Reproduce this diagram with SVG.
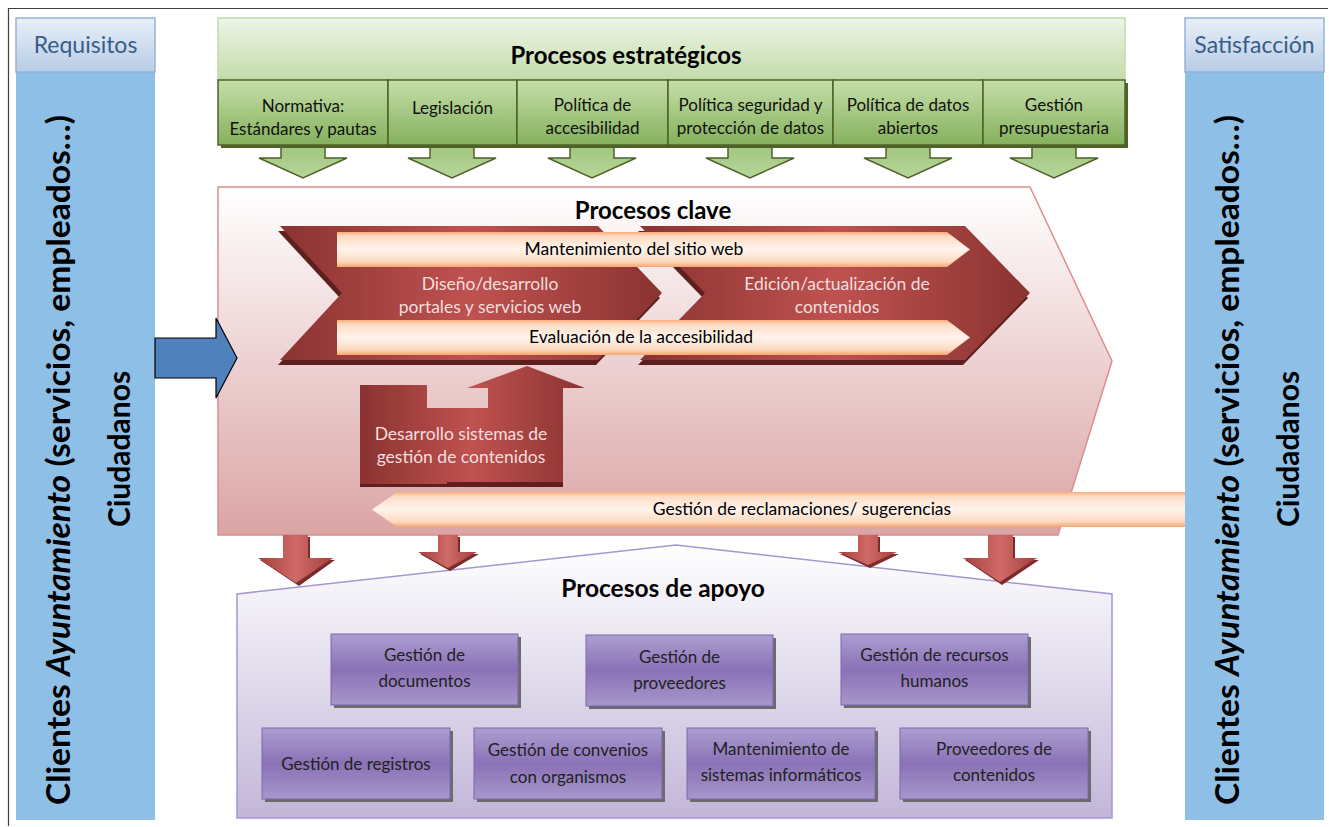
<svg xmlns="http://www.w3.org/2000/svg" width="1329" height="827" viewBox="0 0 1329 827">
<defs>
<linearGradient id="gBlueHdr" x1="0" y1="0" x2="0" y2="1"><stop offset="0" stop-color="#e9f0f8"/><stop offset="1" stop-color="#b7cce6"/></linearGradient>
<linearGradient id="gGreenHdr" x1="0" y1="0" x2="0" y2="1"><stop offset="0" stop-color="#eef5e6"/><stop offset="1" stop-color="#c2dbaa"/></linearGradient>
<linearGradient id="gGreenBox" x1="0" y1="0" x2="0" y2="1"><stop offset="0" stop-color="#c6dfaa"/><stop offset="1" stop-color="#84b05c"/></linearGradient>
<linearGradient id="gGreenArr" x1="0" y1="0" x2="0" y2="1"><stop offset="0" stop-color="#9cc47a"/><stop offset="1" stop-color="#b7d59a"/></linearGradient>
<linearGradient id="gPink" x1="0" y1="0" x2="0" y2="1"><stop offset="0" stop-color="#ffffff"/><stop offset="1" stop-color="#dba4a5"/></linearGradient>
<linearGradient id="gChev" x1="0" y1="0" x2="1" y2="0"><stop offset="0" stop-color="#8a3331"/><stop offset="0.5" stop-color="#bf5250"/><stop offset="1" stop-color="#8a3331"/></linearGradient>
<linearGradient id="gBand" x1="0" y1="0" x2="0" y2="1"><stop offset="0" stop-color="#f7ad7a"/><stop offset="0.12" stop-color="#fcdcc4"/><stop offset="0.5" stop-color="#fff4ec"/><stop offset="0.85" stop-color="#fcd9bf"/><stop offset="1" stop-color="#f6a56e"/></linearGradient>
<linearGradient id="gPurpleBg" x1="0" y1="0" x2="0" y2="1"><stop offset="0" stop-color="#ffffff"/><stop offset="1" stop-color="#c2b6d8"/></linearGradient>
<linearGradient id="gPurpleBox" x1="0" y1="0" x2="0" y2="1"><stop offset="0" stop-color="#ad9ed1"/><stop offset="0.5" stop-color="#8a72b6"/><stop offset="1" stop-color="#a796cb"/></linearGradient>
<linearGradient id="gRed" x1="0" y1="0" x2="1" y2="0"><stop offset="0" stop-color="#a53f3d"/><stop offset="0.5" stop-color="#cf6a67"/><stop offset="1" stop-color="#a53f3d"/></linearGradient>
<style>
text{font-family:Lato,"Liberation Sans",sans-serif;}
.hdrBlue{fill:url(#gBlueHdr);stroke:#95b3d7;stroke-width:1.5;}
.col{fill:#8ebfe7;}
.hdrTxt{font-size:23px;fill:#385d8a;text-anchor:middle;dominant-baseline:central;}
.vert{font-size:32px;font-weight:bold;fill:#000;text-anchor:middle;dominant-baseline:central;}
.title{font-size:24px;font-weight:bold;fill:#000;text-anchor:middle;dominant-baseline:central;}
.gbox{fill:url(#gGreenBox);stroke:#4f6228;stroke-width:1.5;}
.gshadow{fill:#4f6228;}
.garr{fill:url(#gGreenArr);stroke:#4f6228;stroke-width:1.5;}
.btxt{font-size:17px;fill:#111;text-anchor:middle;dominant-baseline:central;}
.chev{fill:url(#gChev);}
.chevSh{fill:#5e201f;}
.ctxt{font-size:17.5px;fill:#f4dede;text-anchor:middle;dominant-baseline:central;}
.band{fill:url(#gBand);}
.bandTxt{font-size:17.5px;fill:#000;text-anchor:middle;dominant-baseline:central;}
.rarr{fill:url(#gRed);}
.rsh{fill:#7a2b2a;}
.pbox{fill:url(#gPurpleBox);stroke:#7c67ad;stroke-width:1;}
.psh{fill:#6b6b6b;}
.ptxt{font-size:17px;fill:#222;text-anchor:middle;dominant-baseline:central;}
</style>
</defs>

<g id="frame">
<path d="M8.5,826 L8.5,8.5 L1328,8.5" fill="none" stroke="#404040" stroke-width="1.2"/>
</g>

<g id="left-column">
<rect class="col" x="16" y="72" width="139" height="748"/>
<rect class="hdrBlue" x="16" y="18" width="139" height="54"/>
<text class="hdrTxt" x="85.5" y="44">Requisitos</text>
<text class="vert" transform="translate(57,460) rotate(-90)" textLength="690" lengthAdjust="spacingAndGlyphs">Clientes <tspan font-style="italic">Ayuntamiento</tspan> (servicios, empleados…)</text>
<text class="vert" transform="translate(118,449) rotate(-90)" style="font-size:30px">Ciudadanos</text>
</g>

<g id="right-column">
<rect class="col" x="1185" y="72" width="139" height="748"/>
<rect class="hdrBlue" x="1185" y="18" width="139" height="54"/>
<text class="hdrTxt" x="1254.5" y="44">Satisfacción</text>
<text class="vert" transform="translate(1226,460) rotate(-90)" textLength="690" lengthAdjust="spacingAndGlyphs">Clientes <tspan font-style="italic">Ayuntamiento</tspan> (servicios, empleados…)</text>
<text class="vert" transform="translate(1287,449) rotate(-90)" style="font-size:30px">Ciudadanos</text>
</g>

<g id="strategic-header">
<rect x="218" y="18" width="907" height="62" fill="url(#gGreenHdr)" stroke="#c3dca6" stroke-width="1.5"/>
<text class="title" x="626" y="54">Procesos estratégicos</text>
</g>

<g id="connectors">
<g id="green-arrows">
<polygon class="garr" points="281,140 325,140 325,158 347,158 303,178 259,158 281,158"/>
<polygon class="garr" points="430,140 474,140 474,158 496,158 452,178 408,158 430,158"/>
<polygon class="garr" points="570,140 614,140 614,158 636,158 592,178 548,158 570,158"/>
<polygon class="garr" points="728,140 772,140 772,158 794,158 750,178 706,158 728,158"/>
<polygon class="garr" points="886,140 930,140 930,158 952,158 908,178 864,158 886,158"/>
<polygon class="garr" points="1032,140 1076,140 1076,158 1098,158 1054,178 1010,158 1032,158"/>
</g>
</g>

<g id="strategic-boxes">
<rect class="gshadow" x="221" y="83" width="907" height="65"/>
<g id="s1"><rect class="gbox" x="218" y="80" width="170" height="65"/><text class="btxt" x="303" y="105">Normativa:</text><text class="btxt" x="303" y="128">Estándares y pautas</text></g>
<g id="s2"><rect class="gbox" x="388" y="80" width="129" height="65"/><text class="btxt" x="452.5" y="107">Legislación</text></g>
<g id="s3"><rect class="gbox" x="517" y="80" width="151" height="65"/><text class="btxt" x="592.5" y="104">Política de</text><text class="btxt" x="592.5" y="127">accesibilidad</text></g>
<g id="s4"><rect class="gbox" x="668" y="80" width="165" height="65"/><text class="btxt" x="750.5" y="104">Política seguridad y</text><text class="btxt" x="750.5" y="127">protección de datos</text></g>
<g id="s5"><rect class="gbox" x="833" y="80" width="150" height="65"/><text class="btxt" x="908" y="104">Política de datos</text><text class="btxt" x="908" y="127">abiertos</text></g>
<g id="s6"><rect class="gbox" x="983" y="80" width="142" height="65"/><text class="btxt" x="1054" y="104">Gestión</text><text class="btxt" x="1054" y="127">presupuestaria</text></g>
</g>

<g id="key-processes">
<path d="M218,187 L1030,187 L1112,361 L1058,535 L218,535 Z" fill="url(#gPink)" stroke="#d98f8f" stroke-width="1.5"/>
<text class="title" x="653" y="209">Procesos clave</text>
</g>

<g id="chevron-diseno">
<polygon class="chevSh" points="278,231 596,231 660,298 596,365 278,365 340,298"/>
<polygon class="chev" points="280,226 598,226 662,293 598,360 280,360 342,293"/>
<text class="ctxt" x="490" y="283">Diseño/desarrollo</text>
<text class="ctxt" x="490" y="306">portales y servicios web</text>
</g>

<g id="chevron-edicion">
<polygon class="chevSh" points="638,231 963,231 1028,298 963,365 638,365 703,298"/>
<polygon class="chev" points="640,226 965,226 1030,293 965,360 640,360 705,293"/>
<text class="ctxt" x="837" y="283">Edición/actualización de</text>
<text class="ctxt" x="837" y="306">contenidos</text>
</g>

<g id="band-mantenimiento">
<polygon class="band" points="337,232 947,232 970,249.5 947,267 337,267"/>
<text class="bandTxt" x="634" y="248">Mantenimiento del sitio web</text>
</g>

<g id="band-evaluacion">
<polygon class="band" points="337,320 947,320 970,337.5 947,355 337,355"/>
<text class="bandTxt" x="641" y="336">Evaluación de la accesibilidad</text>
</g>

<g id="desarrollo-cms">
<polygon class="chevSh" points="360,390 427,390 427,413 488,413 488,393 563,393 563,487 360,487"/>
<polygon fill="url(#gChev)" points="360,385 427,385 427,408 488,408 488,388 467,388 527,366 585,388 563,388 563,482 447,482 447,484 360,484"/>
<text class="ctxt" x="461" y="433">Desarrollo sistemas de</text>
<text class="ctxt" x="461" y="456">gestión de contenidos</text>
</g>

<g id="band-reclamaciones">
<polygon class="band" points="372,509.5 397,492 1185,492 1185,527 397,527"/>
<text class="bandTxt" x="802" y="508">Gestión de reclamaciones/ sugerencias</text>
</g>

<g id="connectors-2">
<polygon id="blue-arrow" points="155,338 216,338 216,318 237,358 216,398 216,378 155,378" fill="#4f81bd" stroke="#000" stroke-width="1.2"/>
</g>

<g id="support-processes">
<path d="M237,594 L676,545 L1112,594 L1112,818 L237,818 Z" fill="url(#gPurpleBg)" stroke="#a596cf" stroke-width="1.5"/>
<text class="title" x="663" y="587" style="font-size:24.5px">Procesos de apoyo</text>
</g>

<g id="connectors-3">
<polygon class="rsh" points="285,537 310,537 310,560 335,560 299,586 260,560 285,560"/>
<polygon class="rarr" points="283,535 308,535 308,558 333,558 296,583 258,558 283,558"/>
<polygon class="rsh" points="440,537 460,537 460,554 479,554 450,571 420,554 440,554"/>
<polygon class="rarr" points="438,535 458,535 458,552 477,552 448,568 418,552 438,552"/>
<polygon class="rsh" points="860,537 880,537 880,554 899,554 870,568 840,554 860,554"/>
<polygon class="rarr" points="858,535 878,535 878,552 897,552 868,565 838,552 858,552"/>
<polygon class="rsh" points="990,537 1015,537 1015,560 1039,560 1002,585 965,560 990,560"/>
<polygon class="rarr" points="988,535 1013,535 1013,558 1037,558 1000,582 963,558 988,558"/>
</g>

<g id="p-documentos"><rect class="psh" x="334" y="637" width="187" height="71"/><rect class="pbox" x="331" y="634" width="187" height="71"/><text class="ptxt" x="424.5" y="654">Gestión de</text><text class="ptxt" x="424.5" y="680">documentos</text></g>
<g id="p-proveedores"><rect class="psh" x="589" y="638" width="187" height="71"/><rect class="pbox" x="586" y="635" width="187" height="71"/><text class="ptxt" x="679.5" y="656">Gestión de</text><text class="ptxt" x="679.5" y="682">proveedores</text></g>
<g id="p-rrhh"><rect class="psh" x="844" y="637" width="187" height="71"/><rect class="pbox" x="841" y="634" width="187" height="71"/><text class="ptxt" x="934.5" y="654">Gestión de recursos</text><text class="ptxt" x="934.5" y="680">humanos</text></g>
<g id="p-registros"><rect class="psh" x="265" y="731" width="188" height="71"/><rect class="pbox" x="262" y="728" width="188" height="71"/><text class="ptxt" x="356" y="763">Gestión de registros</text></g>
<g id="p-convenios"><rect class="psh" x="477" y="731" width="188" height="71"/><rect class="pbox" x="474" y="728" width="188" height="71"/><text class="ptxt" x="568" y="749">Gestión de convenios</text><text class="ptxt" x="568" y="776">con organismos</text></g>
<g id="p-sistemas"><rect class="psh" x="690" y="731" width="188" height="71"/><rect class="pbox" x="687" y="728" width="188" height="71"/><text class="ptxt" x="781" y="748">Mantenimiento de</text><text class="ptxt" x="781" y="774">sistemas informáticos</text></g>
<g id="p-contenidos"><rect class="psh" x="903" y="731" width="188" height="71"/><rect class="pbox" x="900" y="728" width="188" height="71"/><text class="ptxt" x="994" y="748">Proveedores de</text><text class="ptxt" x="994" y="774">contenidos</text></g>
</svg>
